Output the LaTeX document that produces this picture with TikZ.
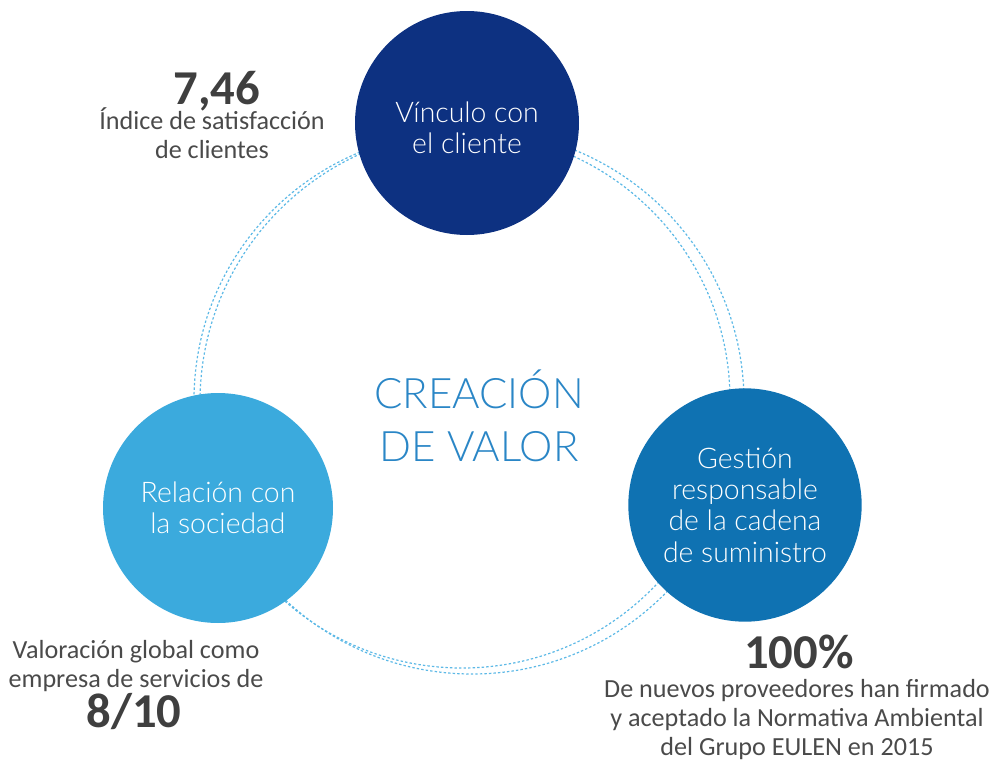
\documentclass[tikz,border=0pt]{standalone}
\usepackage{fontspec}
\setmainfont{Carlito}
\newfontfamily\circfont{Lato Light}
\usetikzlibrary{positioning}
\definecolor{navy}{HTML}{0D3181}
\definecolor{celeste}{HTML}{3BAADD}
\definecolor{azul}{HTML}{0F72B2}
\definecolor{punteado}{HTML}{5DB9E6}
\definecolor{titulo}{HTML}{2A86C6}
\definecolor{gris}{HTML}{3F3F3F}
\definecolor{grisclaro}{HTML}{4A4A4A}

\begin{document}
\begin{tikzpicture}[x=0.75pt, y=-0.75pt,
			circulo/.style={circle, inner sep=0pt, text=white, align=center,
				font=\circfont\fontsize{21.3}{23.5}\selectfont},
			cifra/.style={text=gris, inner sep=0pt, font=\bfseries\fontsize{36.5}{40}\selectfont},
			nota/.style={text=grisclaro, inner sep=0pt, align=center,
				font=\fontsize{19.6}{21.75}\selectfont},
			anillo/.style={draw=punteado, line width=0.9pt, dash pattern=on 1.8pt off 1.6pt}]
			
			\useasboundingbox (0,0) rectangle (990,760);
			% anillos punteados
			\draw[anillo] (462,400) circle[radius=268];
			\draw[anillo] (472,402) circle[radius=272];
			
			\node[circulo, fill=navy, minimum size=168pt] (cliente) at (467,123) {};
			\node[circulo, inner sep=0pt] (clientetxt) at (467,128) {V\'inculo con\\el cliente};
			\node[circulo, fill=celeste, minimum size=172.5pt] (sociedad) at (218,508) {Relaci\'on con\\la sociedad};
			\node[circulo, fill=azul, minimum size=175pt] (cadena) at (745,505) {Gesti\'on\\responsable\\de la cadena\\de suministro};
			
			\node[text=titulo, align=center, inner sep=0pt, font=\circfont\fontsize{31.5}{40}\selectfont] (valor) at (479,416) {CREACI\'ON\\DE VALOR};
			
			\node[cifra, anchor=base] (cifra1) at (217,104) {7,46};
			\node[nota, anchor=base] (nota1) at (212,158) {\'Indice de satisfacci\'on\\de clientes};
			
			\node[cifra, anchor=base] (cifra2) at (799,668) {100\%};
			\node[nota, anchor=base] (nota2) at (797,755) {De nuevos proveedores han firmado\\y aceptado la Normativa Ambiental\\del Grupo EULEN en 2015};
			
			\node[nota, anchor=base] (nota3) at (136,687) {Valoraci\'on global como\\empresa de servicios de};
			\node[cifra, anchor=base] (cifra3) at (134,727) {8/10};
	\end{tikzpicture}
\end{document}
